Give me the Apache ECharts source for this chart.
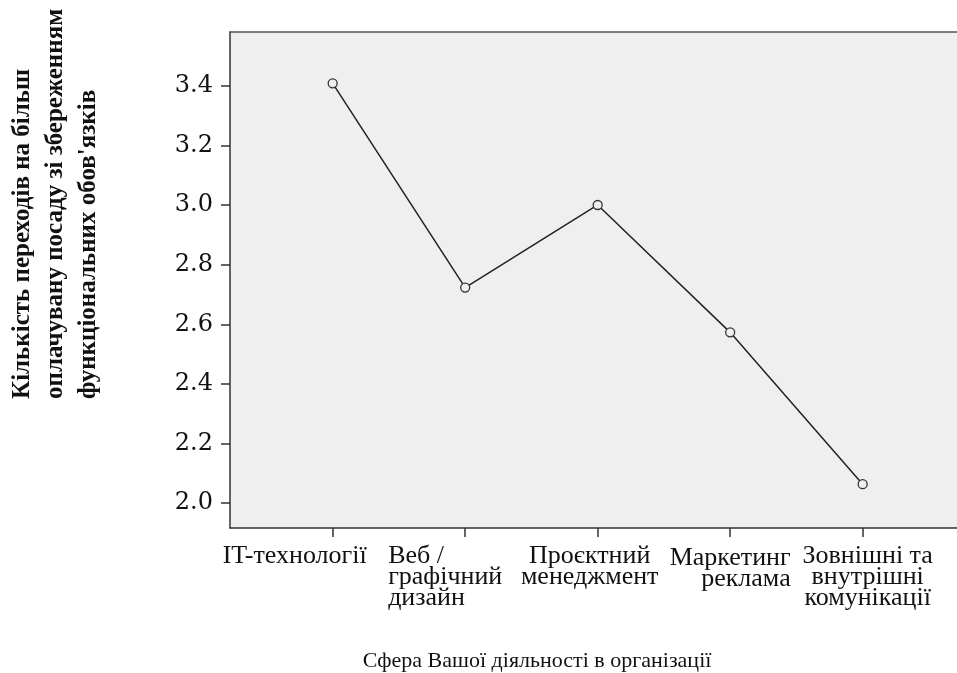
<!DOCTYPE html>
<html>
<head>
<meta charset="utf-8">
<script src="https://cdn.jsdelivr.net/npm/echarts@6/dist/echarts.min.js"></script>
<style>
  html, body { margin: 0; padding: 0; background: #fff; }
  #chart { width: 957px; height: 673px; }
</style>
</head>
<body>
<div id="chart"></div>
<script>
// categories on the x axis (SPSS means plot)
const categories = [
  "IT-технології",
  "Веб /\nграфічний\nдизайн",
  "Проєктний\nменеджмент",
  "Маркетинг\nреклама",
  "Зовнішні та\nвнутрішні\nкомунікації"
];
// mean number of moves per category
const meanValues = [3.408, 2.723, 3.0, 2.573, 2.064];
const yTicks = [2.0, 2.2, 2.4, 2.6, 2.8, 3.0, 3.2, 3.4];
const xTitle = "Сфера Вашої діяльності в організації";
const yTitle = "Кількість переходів на більш\nоплачувану посаду зі збереженням\nфункціональних обов'язків";

const chart = echarts.init(document.getElementById("chart"));

const serif = '"Liberation Serif", "Times New Roman", serif';
const xMin = -0.775;
const xMax = 4.712;
const catIdx = categories.map(function (c, i) { return i; });

// per label rich styles (SPSS put the wrapped labels a bit off-centre)
const labelRich = {
  c0: { padding: [0, 76, 0, 0] },
  c1: { align: "left", padding: [0, 40, 0, 0] },
  c2: { align: "center", padding: [0, 16, 0, 0] },
  c3: { align: "right", padding: [4, 0, 0, 0] },
  c4: { align: "center", padding: [0, 0, 0, 10] }
};
Object.keys(labelRich).forEach(function (k) {
  labelRich[k].fontFamily = serif;
  labelRich[k].fontSize = 26;
  labelRich[k].lineHeight = 21;
  labelRich[k].color = "#111";
});

function catLabel(v) {
  const i = Math.round(v);
  return "{c" + i + "|" + categories[i] + "}";
}

// labels are split over two bottom axes so that echarts does not drop
// an overlapping neighbour of the first/last label
const option = {
  animation: false,
  backgroundColor: "#fff",
  grid: {
    left: 230,
    right: 0,
    top: 32,
    bottom: 145,
    outerBoundsMode: "none",
    show: true,
    backgroundColor: "#efefef",
    borderWidth: 0
  },
  xAxis: [
    {
      type: "value",
      position: "bottom",
      min: xMin,
      max: xMax,
      name: xTitle,
      nameLocation: "middle",
      nameGap: 122,
      nameTextStyle: {
        fontFamily: serif,
        fontSize: 22,
        color: "#111",
        padding: [0, 113, 0, 0]
      },
      axisLine: { show: true, onZero: false, lineStyle: { color: "#333", width: 1.5 } },
      axisTick: {
        show: true,
        length: 9,
        customValues: catIdx,
        lineStyle: { color: "#333", width: 1.5 }
      },
      axisLabel: {
        customValues: catIdx.filter(function (i) { return i % 2 === 0; }),
        showMinLabel: true,
        showMaxLabel: true,
        margin: 18,
        formatter: catLabel,
        rich: labelRich
      },
      splitLine: { show: false }
    },
    {
      // top frame line only
      type: "value",
      position: "top",
      min: xMin,
      max: xMax,
      axisLine: { show: true, onZero: false, lineStyle: { color: "#555", width: 1.5 } },
      axisTick: { show: false },
      axisLabel: { show: false },
      splitLine: { show: false }
    },
    {
      type: "value",
      position: "bottom",
      offset: 0,
      min: xMin,
      max: xMax,
      axisLine: { show: false, onZero: false },
      axisTick: { show: false },
      axisLabel: {
        customValues: catIdx.filter(function (i) { return i % 2 === 1; }),
        showMinLabel: true,
        showMaxLabel: true,
        margin: 18,
        formatter: catLabel,
        rich: labelRich
      },
      splitLine: { show: false }
    }
  ],
  yAxis: {
    type: "value",
    min: 1.917,
    max: 3.58,
    axisLine: { show: true, onZero: false, lineStyle: { color: "#333", width: 1.5 } },
    axisTick: {
      show: true,
      length: 9,
      customValues: yTicks,
      lineStyle: { color: "#333", width: 1.5 }
    },
    axisLabel: {
      customValues: yTicks,
      margin: 17,
      fontFamily: '"DejaVu Serif", serif',
      fontSize: 24,
      color: "#111",
      formatter: function (v) {
        return v.toFixed(1);
      }
    },
    splitLine: { show: false }
  },
  graphic: [
    {
      type: "text",
      x: 6,
      y: 399,
      rotation: Math.PI / 2,
      style: {
        text: yTitle,
        font: "bold 25px " + serif,
        lineHeight: 33,
        fill: "#111",
        textAlign: "left",
        textVerticalAlign: "top"
      }
    }
  ],
  series: [
    {
      type: "line",
      xAxisIndex: 0,
      data: meanValues.map(function (v, i) {
        return [i, v];
      }),
      symbol: "circle",
      symbolSize: 9,
      lineStyle: { color: "#222", width: 1.5 },
      itemStyle: { color: "#efefef", borderColor: "#333", borderWidth: 1.3 }
    }
  ]
};

chart.setOption(option);
</script>
</body>
</html>
